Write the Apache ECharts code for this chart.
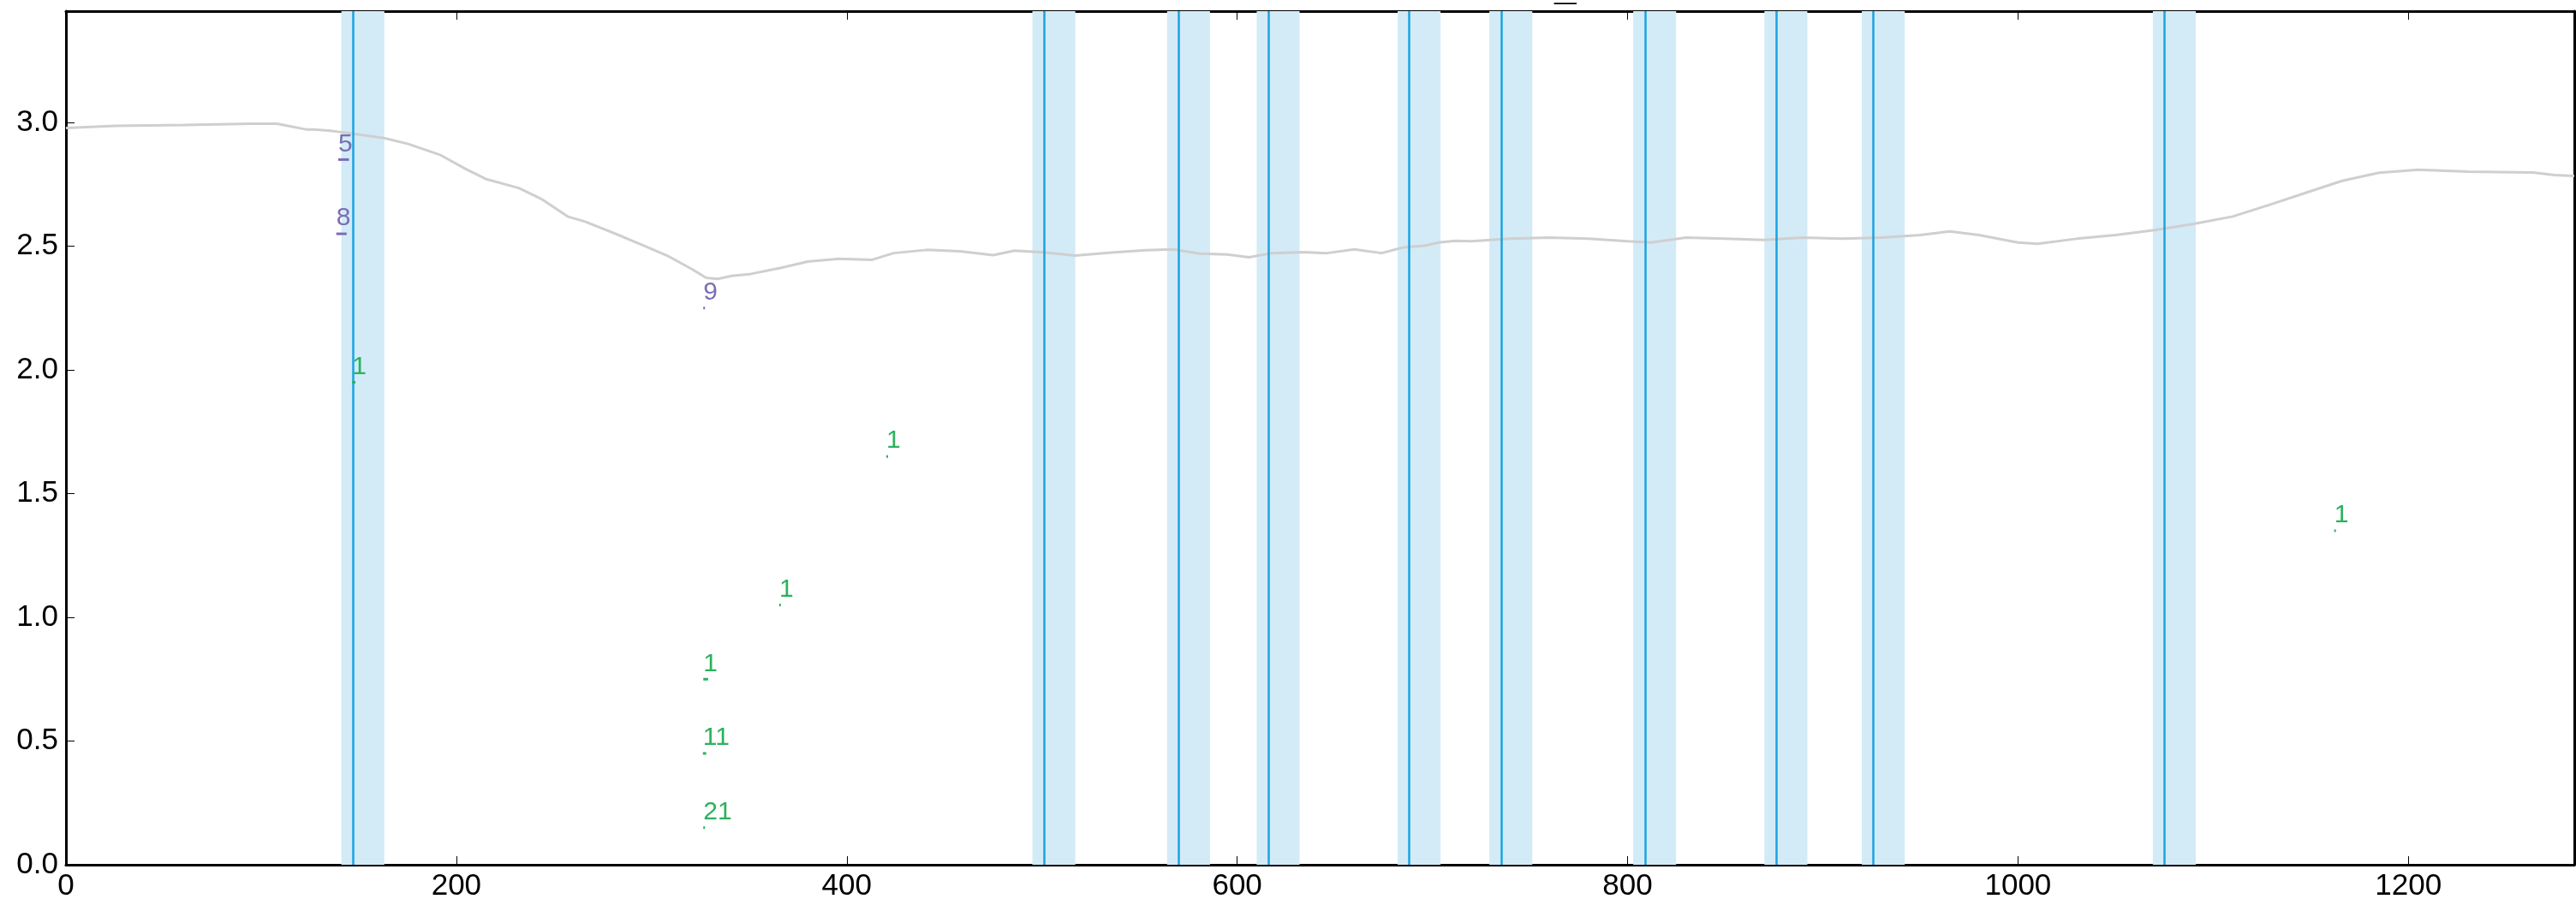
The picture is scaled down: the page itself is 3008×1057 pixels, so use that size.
<!DOCTYPE html>
<html>
<head>
<meta charset="utf-8">
<script src="https://cdn.jsdelivr.net/npm/echarts@6/dist/echarts.min.js"></script>
<style>
html,body{margin:0;padding:0;background:#fff;}
#chart{width:3008px;height:1057px;}
</style>
</head>
<body>
<div id="chart"></div>
<script>
// ---- data ----
const lineX = [0,25,60,95,108,112,123,127,136,146.5,163,175,192,205,215,232,244,257,266,274,285,296,308,321,328,334,341,351,362,366,380,396,413,424,441,458,475,486,501,517,534,553,567,581,595,606,618,634,646,660,674,685,696,704,712,720,740,760,780,800,812,830,850,870,890,910,930,950,965,980,1000,1010,1030,1050,1070,1090,1110,1130,1151,1166,1185,1205,1231,1264,1275,1285];
const lineY = [2.978,2.986,2.990,2.995,2.995,2.989,2.972,2.972,2.966,2.955,2.937,2.914,2.868,2.811,2.772,2.735,2.689,2.620,2.599,2.574,2.539,2.502,2.462,2.406,2.372,2.368,2.380,2.388,2.406,2.412,2.438,2.449,2.445,2.472,2.485,2.479,2.464,2.482,2.475,2.462,2.473,2.484,2.487,2.470,2.466,2.455,2.472,2.476,2.472,2.487,2.472,2.495,2.502,2.516,2.522,2.520,2.530,2.535,2.530,2.520,2.515,2.535,2.530,2.525,2.535,2.530,2.535,2.545,2.560,2.545,2.515,2.510,2.530,2.545,2.565,2.590,2.620,2.670,2.725,2.764,2.797,2.809,2.801,2.798,2.787,2.784];

const eventX = [147.1,501.1,570.1,616.0,688.2,735.2,808.9,876.1,926.0,1075.1];
const bandStart = [141.1,495.1,564.1,610.0,682.2,729.2,802.9,870.1,920.0,1069.1];
const bandEnd = [163.1,517.1,586.1,632.0,704.2,751.2,824.9,892.1,942.0,1091.1];

const purpleStart = [139.5,138.5,326.5];
const purpleEnd = [145.0,143.8,327.0];
const purpleY = [2.85,2.55,2.25];
const purpleLabel = ['5','8','9'];

const greenStart = [146.6,420.3,365.4,326.5,326.3,326.5,1162.0];
const greenEnd = [148.3,420.8,365.9,329.0,328.0,327.0,1162.5];
const greenY = [1.95,1.65,1.05,0.75,0.45,0.15,1.35];
const greenLabel = ['1','1','1','1','11','21','1'];

const xTicks = [0,200,400,600,800,1000,1200];
const yTicks = [0.0,0.5,1.0,1.5,2.0,2.5,3.0];

// ---- chart ----
const FONT = '"Liberation Sans", Arial, sans-serif';
const chart = echarts.init(document.getElementById('chart'), null, {renderer:'canvas'});

function markerSeries(starts, ends, ys, labels, color) {
  return {
    type: 'custom',
    z: 5,
    silent: true,
    data: starts.map((s, i) => [s, ends[i], ys[i], labels[i]]),
    renderItem: function (params, api) {
      const a = api.coord([api.value(0), api.value(2)]);
      const b = api.coord([api.value(1), api.value(2)]);
      const w = Math.max(b[0] - a[0], 2);
      return {
        type: 'group',
        children: [
          {type: 'rect', shape: {x: a[0], y: a[1] - 1.5, width: w, height: 3}, style: {fill: color}},
          {type: 'text', style: {text: String(api.value(3)), x: a[0], y: a[1] - 3, align: 'left', verticalAlign: 'bottom', fill: color, fontSize: 30, fontFamily: FONT}}
        ]
      };
    }
  };
}

const axisCommon = {
  type: 'value',
  axisLine: {show: true, onZero: false, lineStyle: {color: '#000', width: 3}},
  axisTick: {show: true, inside: true, length: 10, lineStyle: {color: '#000', width: 1}},
  splitLine: {show: false}
};

const option = {
  animation: false,
  backgroundColor: '#fff',
  title: {text: '_', left: 1810, top: -42, textStyle: {fontSize: 46, fontWeight: 'bold', color: '#000', fontFamily: FONT}},
  grid: {left: 77, right: 2, top: 13, bottom: 47, containLabel: false, outerBoundsMode: 'none'},
  xAxis: [
    Object.assign({}, axisCommon, {
      position: 'bottom', min: 0, max: 1285, interval: 200,
      axisLabel: {show: true, margin: 8, fontSize: 35, color: '#000', fontFamily: FONT, showMaxLabel: false,
        formatter: v => xTicks.indexOf(v) >= 0 ? String(v) : ''}
    }),
    Object.assign({}, axisCommon, {
      position: 'top', min: 0, max: 1285, interval: 200,
      axisLabel: {show: false}
    })
  ],
  yAxis: [
    Object.assign({}, axisCommon, {
      position: 'left', min: 0, max: 3.45, interval: 0.5,
      axisLabel: {show: true, margin: 9, fontSize: 35, color: '#000', fontFamily: FONT, showMaxLabel: false,
        formatter: v => yTicks.indexOf(v) >= 0 ? v.toFixed(1) : ''}
    }),
    Object.assign({}, axisCommon, {
      position: 'right', min: 0, max: 3.45, interval: 0.5,
      axisTick: {show: false},
      axisLabel: {show: false}
    })
  ],
  series: [
    {
      type: 'line', z: 1, silent: true, data: [],
      markArea: {
        silent: true,
        itemStyle: {color: '#d3ebf7'},
        data: bandStart.map((s, i) => [{xAxis: s}, {xAxis: bandEnd[i]}])
      }
    },
    {
      type: 'line', z: 3, silent: true,
      data: lineX.map((x, i) => [x, lineY[i]]),
      showSymbol: false, symbol: 'none',
      lineStyle: {color: '#cfcfcf', width: 3}
    },
    {
      type: 'line', z: 4, silent: true, data: [],
      markLine: {
        silent: true, symbol: ['none', 'none'], label: {show: false},
        lineStyle: {color: '#1aa3e0', width: 2.5, type: 'solid'},
        data: eventX.map(x => ({xAxis: x}))
      }
    },
    markerSeries(purpleStart, purpleEnd, purpleY, purpleLabel, '#7a6db5'),
    markerSeries(greenStart, greenEnd, greenY, greenLabel, '#2bb25c')
  ]
};
chart.setOption(option);
</script>
</body>
</html>
